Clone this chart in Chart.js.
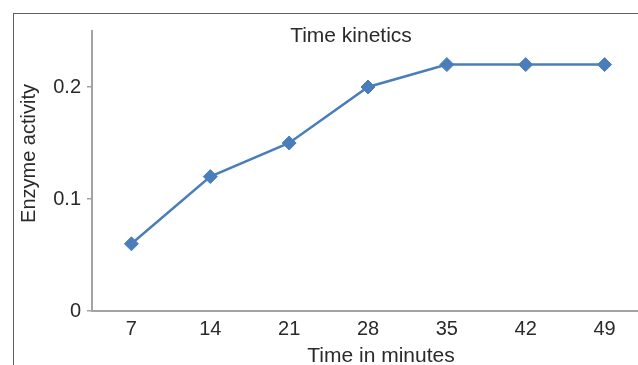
<!DOCTYPE html>
<html>
<head>
<meta charset="utf-8">
<script src="https://cdn.jsdelivr.net/npm/chart.js@4"></script>
<style>
  html, body { margin: 0; padding: 0; background: #fff; overflow: hidden; }
  #wrap { position: relative; width: 660px; height: 365px; }
  #frame {
    position: absolute; left: 13px; top: 13px; right: 0; bottom: 0;
    border-left: 1px solid #5f5f5f; border-top: 1px solid #5f5f5f;
    pointer-events: none;
  }
</style>
</head>
<body>
<div id="wrap">
  <canvas id="kinetics" width="660" height="365"></canvas>
  <div id="frame"></div>
</div>
<script>
// chart data
const minutes = ['7', '14', '21', '28', '35', '42', '49'];
const activity = [0.06, 0.12, 0.15, 0.2, 0.22, 0.22, 0.22];
const yTicks = [0, 0.1, 0.2];
const chartTitle = 'Time kinetics';
const xTitle = 'Time in minutes';
const yTitle = 'Enzyme activity';

const FONT = '"Liberation Sans", Arial, sans-serif';
const textColor = '#2a2a2a';
const axisColor = '#a3a3a3';
const blue = '#4a7ebb';

/**
 * Draws chart title and axis titles where the original puts them
 */
const titlesPlugin = {
    id: 'titles',
    afterDraw(chart) {
        const { ctx, chartArea: a } = chart;
        ctx.save();
        ctx.fillStyle = textColor;
        ctx.font = '21px ' + FONT;
        ctx.textAlign = 'center';
        ctx.textBaseline = 'alphabetic';
        ctx.fillText(chartTitle, a.left + 259, a.top + 10.5);
        ctx.fillText(xTitle, a.left + 289, a.bottom + 51);
        ctx.font = '20px ' + FONT;
        ctx.translate(35, a.top + 122.5);
        ctx.rotate(-Math.PI / 2);
        ctx.fillText(yTitle, 0, 0);
        ctx.restore();
    }
};

new Chart(document.getElementById('kinetics').getContext('2d'), {
    type: 'line',
    data: {
        labels: minutes,
        datasets: [{
            data: activity,
            borderColor: blue,
            backgroundColor: blue,
            borderWidth: 2.5,
            tension: 0,
            pointStyle: 'rectRot',
            pointRadius: 7,
            pointBorderWidth: 1,
            pointBackgroundColor: blue,
            pointBorderColor: blue
        }]
    },
    options: {
        responsive: false,
        animation: false,
        layout: { padding: { left: 0, top: 31, right: 16, bottom: 0 } },
        scales: {
            x: {
                type: 'category',
                offset: true,
                afterFit: s => { s.height = 54; },
                grid: { display: true, drawOnChartArea: false, drawTicks: false },
                border: { display: true, color: axisColor, width: 2 },
                ticks: {
                    padding: 6,
                    color: textColor,
                    font: { size: 20, family: FONT }
                }
            },
            y: {
                min: 0,
                max: 0.25,
                afterFit: s => { s.width = 92; },
                afterBuildTicks: s => { s.ticks = yTicks.map(v => ({ value: v })); },
                grid: { display: true, drawOnChartArea: false, drawTicks: true, tickLength: 5, color: axisColor, lineWidth: 1.5 },
                border: { display: true, color: axisColor, width: 2 },
                ticks: {
                    padding: 6,
                    color: textColor,
                    font: { size: 20, family: FONT },
                    callback: v => (v === 0 ? '0' : v.toFixed(1))
                }
            }
        },
        plugins: {
            legend: { display: false },
            title: { display: false },
            tooltip: { enabled: false }
        }
    },
    plugins: [titlesPlugin]
});
</script>
</body>
</html>
